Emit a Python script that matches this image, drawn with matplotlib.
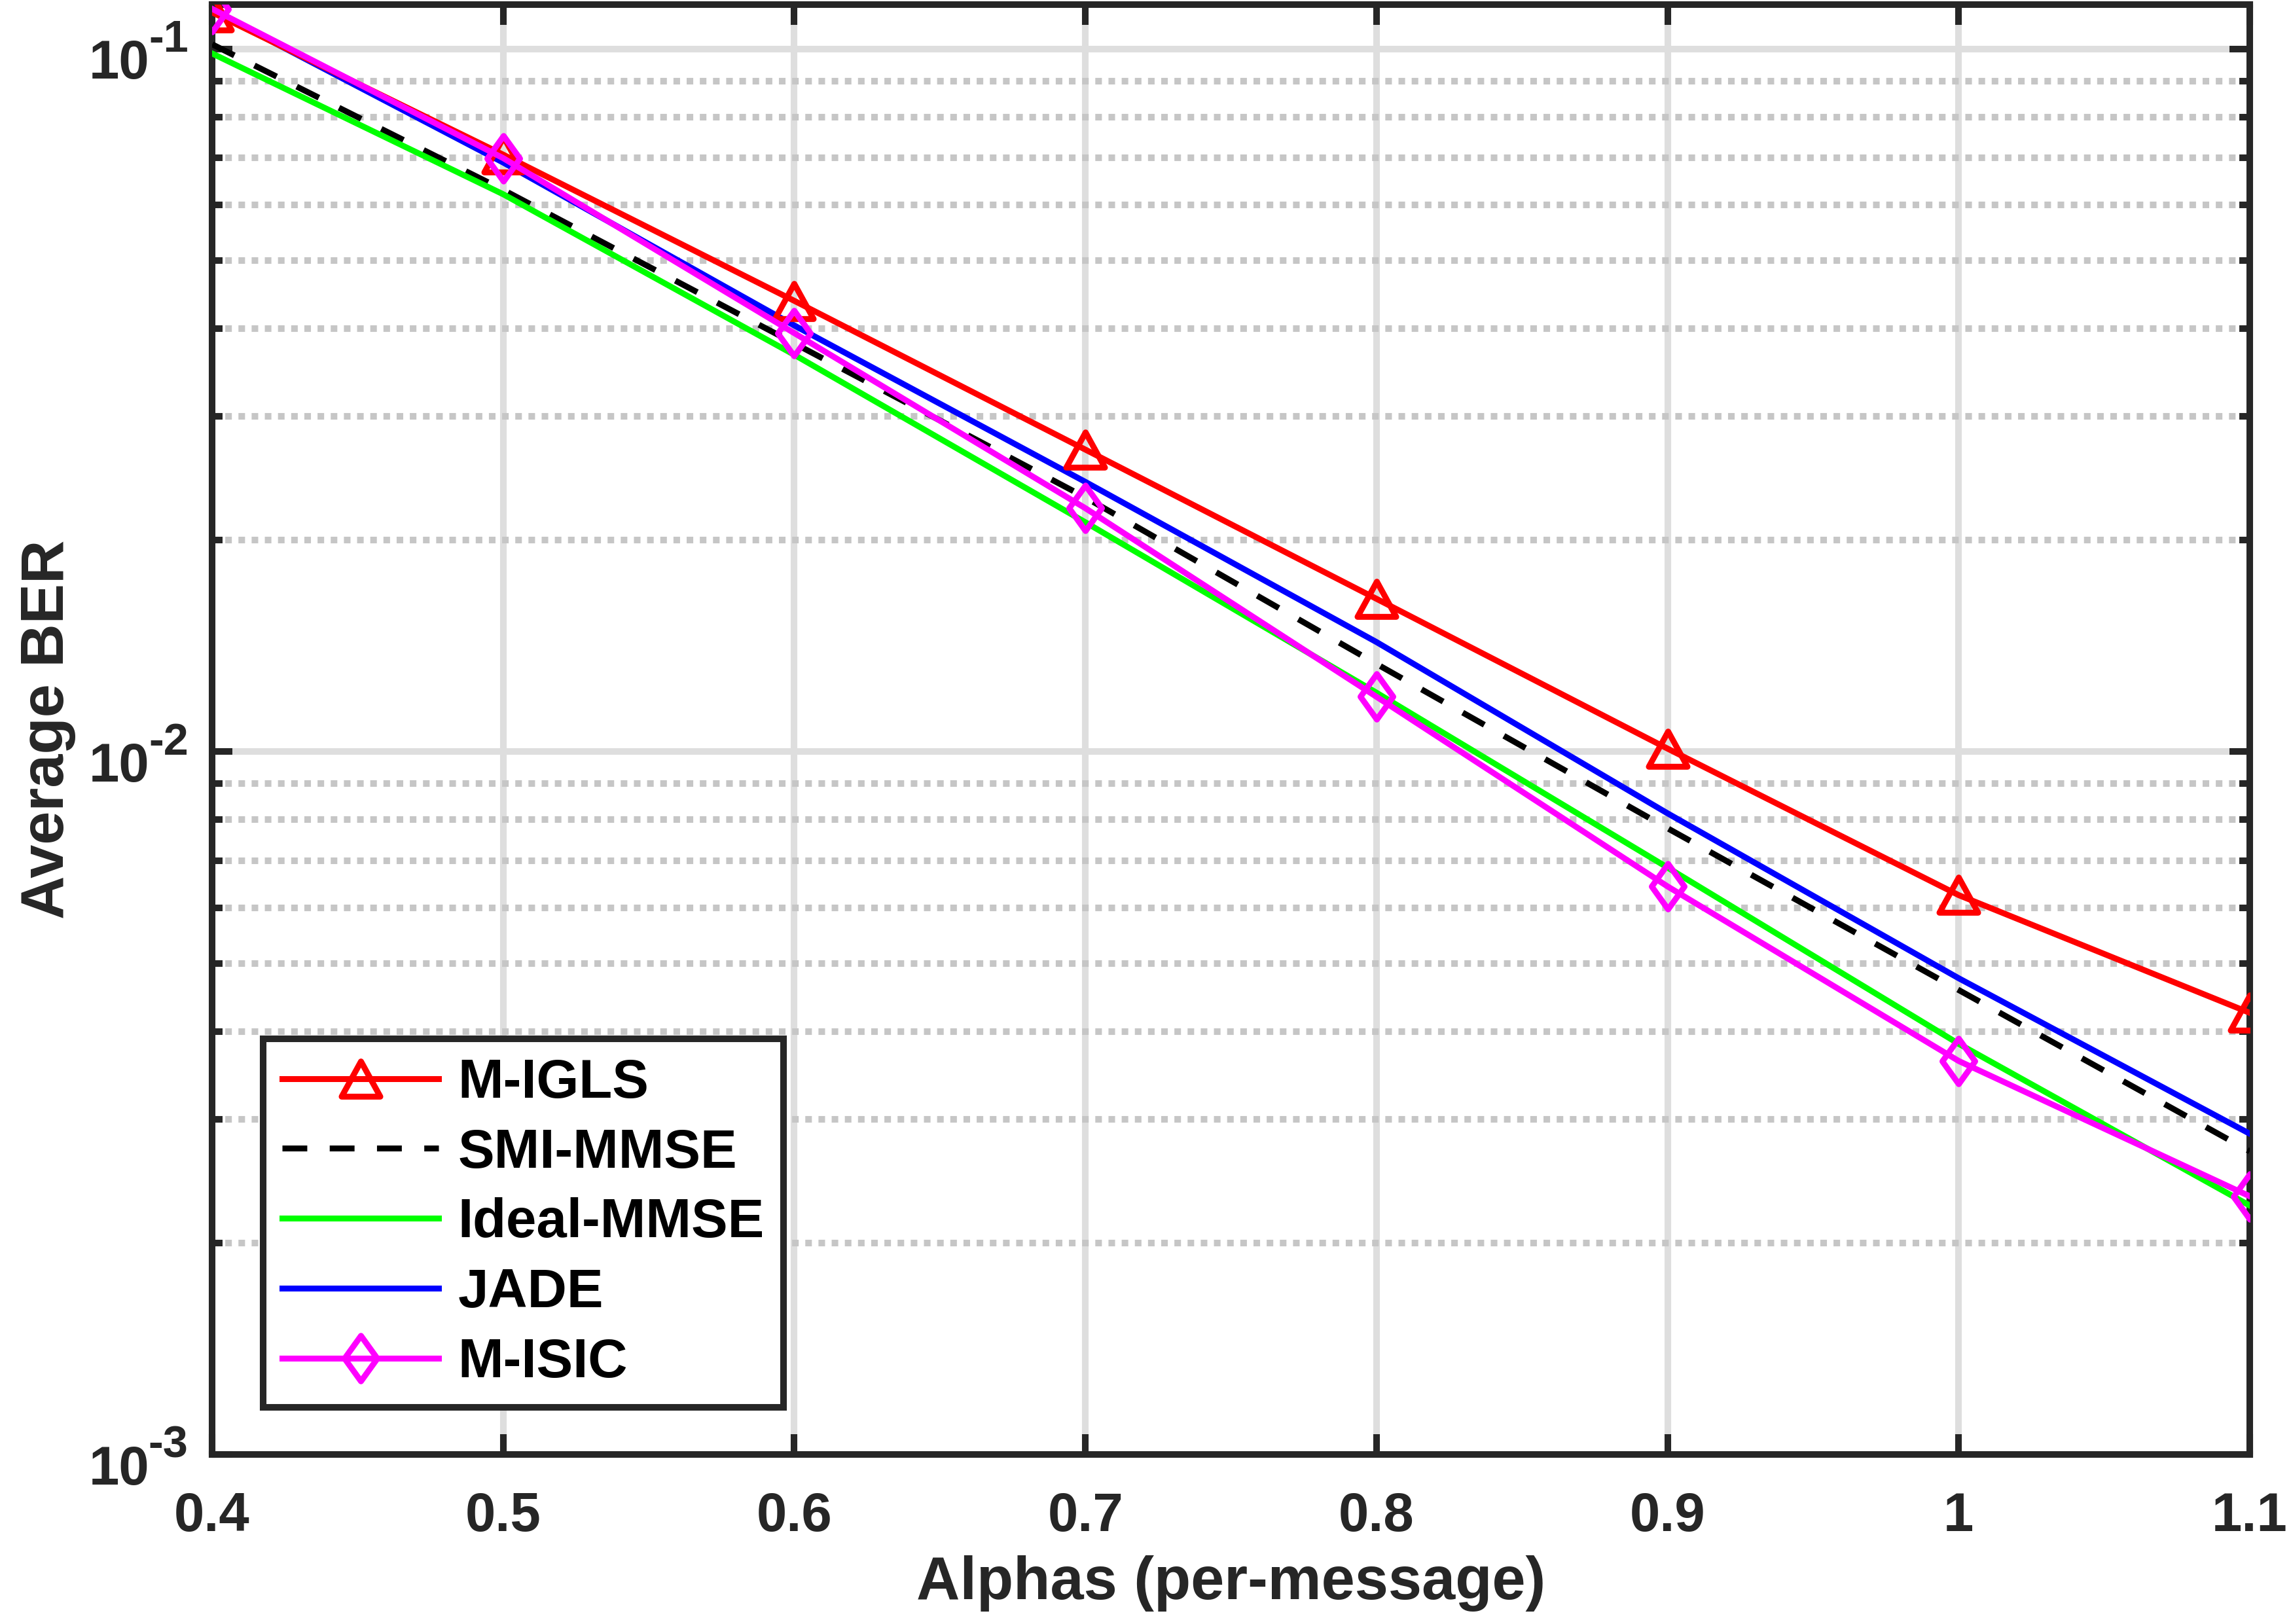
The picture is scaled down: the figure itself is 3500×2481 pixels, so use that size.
import numpy as np
import matplotlib
matplotlib.use("Agg")
import matplotlib.pyplot as plt
from matplotlib.path import Path
from matplotlib.ticker import LogLocator, FixedLocator, NullFormatter

plt.rcParams["font.family"] = ["Liberation Sans", "DejaVu Sans"]
plt.rcParams["font.weight"] = "bold"

# data
alphas = [0.4, 0.5, 0.6, 0.7, 0.8, 0.9, 1.0, 1.1]
m_igls = [0.1127, 0.0707, 0.0438, 0.0269, 0.0165, 0.0101, 0.00625, 0.00425]
smi_mmse = [0.1015, 0.0630, 0.0381, 0.0230, 0.01333, 0.00778, 0.00458, 0.0027]
ideal_mmse = [0.0985, 0.0621, 0.0367, 0.0212, 0.01213, 0.00684, 0.00384, 0.00226]
jade = [0.1135, 0.0689, 0.0404, 0.0242, 0.01432, 0.00817, 0.00476, 0.00286]
m_isic = [0.1140, 0.0699, 0.0394, 0.0222, 0.01197, 0.00643, 0.00363, 0.00233]

x_ticks = [0.4, 0.5, 0.6, 0.7, 0.8, 0.9, 1.0, 1.1]
x_ticklabels = ["0.4", "0.5", "0.6", "0.7", "0.8", "0.9", "1", "1.1"]
y_ticks = [1e-3, 1e-2, 1e-1]
y_exponents = ["-3", "-2", "-1"]

# matlab style markers (wide triangle, tall diamond)
tri = Path([(0, 0.91), (-1, -0.91), (1, -0.91), (0, 0.91)],
           [Path.MOVETO, Path.LINETO, Path.LINETO, Path.CLOSEPOLY])
dia = Path([(0, 1), (0.72, 0), (0, -1), (-0.72, 0), (0, 1)],
           [Path.MOVETO, Path.LINETO, Path.LINETO, Path.LINETO, Path.CLOSEPOLY])

fig = plt.figure(figsize=(14, 9.924), dpi=250)
ax = fig.add_axes([0.0926, 0.1044, 0.8894, 0.8926])

lw = 2.6
ax.plot(alphas, m_igls, color="#ff0000", lw=lw, marker=tri, ms=17,
        mfc="none", mew=lw, label="M-IGLS", zorder=5)
ax.plot(alphas, smi_mmse, color="black", lw=lw, ls=(0, (4.2, 3.8)),
        label="SMI-MMSE", zorder=4)
ax.plot(alphas, ideal_mmse, color="#00ff00", lw=lw, label="Ideal-MMSE", zorder=4)
ax.plot(alphas, jade, color="#0000ff", lw=lw, label="JADE", zorder=4)
ax.plot(alphas, m_isic, color="#ff00ff", lw=lw, marker=dia, ms=20,
        mfc="none", mew=lw, label="M-ISIC", zorder=6)

ax.set_yscale("log")
ax.set_xlim(0.4, 1.1)
ax.set_ylim(1e-3, 0.1155)

ax.xaxis.set_major_locator(FixedLocator(x_ticks))
ax.set_xticklabels(x_ticklabels)
ax.yaxis.set_major_locator(FixedLocator(y_ticks))
ax.yaxis.set_major_formatter(NullFormatter())
ax.yaxis.set_minor_locator(LogLocator(base=10, subs=np.arange(2, 10), numticks=20))
ax.yaxis.set_minor_formatter(NullFormatter())

# matlab-like 10^-n labels: big base, big raised exponent
ytr = ax.get_yaxis_transform()
for v, e in zip(y_ticks, y_exponents):
    ax.annotate("10", xy=(0, v), xycoords=ytr, xytext=(-27.5, -13.2),
                textcoords="offset points", ha="right", va="baseline",
                fontsize=24, fontweight="bold", color="#262626",
                annotation_clip=False)
    ax.annotate(e, xy=(0, v), xycoords=ytr, xytext=(-10.5, -1.4),
                textcoords="offset points", ha="right", va="baseline",
                fontsize=19.7, fontweight="bold", color="#262626",
                annotation_clip=False)

ax.grid(True, which="major", color="#dedede", lw=2.9, ls="-", zorder=0)
ax.grid(True, which="minor", axis="y", color="#c6c6c6", lw=2.9,
        ls=(0, (1, 1)), zorder=0)
ax.set_axisbelow(True)

for s in ax.spines.values():
    s.set_color("#262626")
    s.set_linewidth(2.9)

ax.tick_params(which="major", direction="in", length=9, width=2.9,
               top=True, right=True, colors="#262626", labelsize=24, pad=16)
ax.tick_params(which="minor", direction="in", length=4.5, width=2.9,
               top=True, right=True, colors="#262626")

ax.set_xlabel("Alphas (per-message)", fontsize=26.5, fontweight="bold",
              color="#262626")
ax.set_ylabel("Average BER", fontsize=26.5, fontweight="bold",
              color="#262626")
ax.xaxis.set_label_coords(0.5, -0.0695)
ax.yaxis.set_label_coords(-0.067, 0.5)

leg = ax.legend(loc="lower left", bbox_to_anchor=(0.025, 0.0325),
                fontsize=24, fancybox=False, framealpha=1,
                edgecolor="#262626", handlelength=2.87,
                handletextpad=0.35, borderpad=0.35, labelspacing=0.345,
                borderaxespad=0)
leg.get_frame().set_linewidth(2.9)
for t in leg.get_texts():
    t.set_fontweight("bold")

fig.savefig("out.png", dpi=250)
